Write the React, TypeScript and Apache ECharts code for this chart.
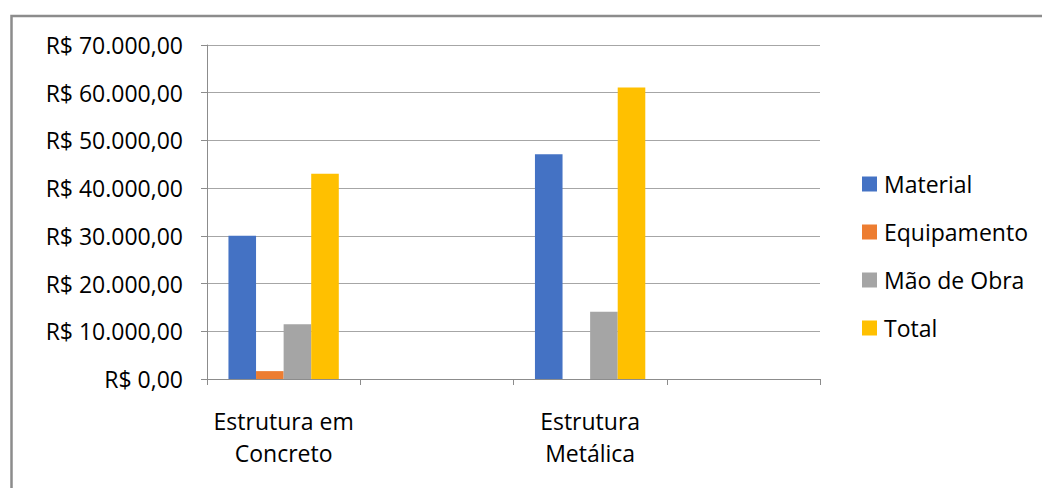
import React, { useEffect, useRef } from "react";
import * as echarts from "echarts";

const categories = ["Estrutura em\nConcreto", "", "Estrutura\nMetálica", ""];
const seriesNames = ["Material", "Equipamento", "Mão de Obra", "Total"];
const material = [30000, null, 47100, null];
const equipamento = [1650, null, 0, null];
const maoDeObra = [11450, null, 14100, null];
const total = [43000, null, 61100, null];
const colors = ["#4472C4", "#ED7D31", "#A5A5A5", "#FFC000"];

function brl(v: number): string {
  const fixed = Math.abs(v).toFixed(2);
  const [intPart, dec] = fixed.split(".");
  const withDots = intPart.replace(/\B(?=(\d{3})+(?!\d))/g, ".");
  return "R$ " + withDots + "," + dec;
}

const FONT = "Open Sans";
const FS = 23;

export default function App() {
  const ref = useRef<HTMLDivElement>(null);
  useEffect(() => {
    document.body.style.margin = "0";
    if (!ref.current) return;
    const chart = echarts.init(ref.current, undefined, { renderer: "svg" });
    const values = [material, equipamento, maoDeObra, total];
    chart.setOption({
      animation: false,
      backgroundColor: "#ffffff",
      textStyle: { fontFamily: FONT },
      graphic: [
        {
          type: "rect",
          shape: { x: 11.5, y: 16, width: 1200, height: 600 },
          style: { fill: "none", stroke: "#8c8c8c", lineWidth: 2.5 },
          silent: true,
        },
      ],
      grid: { left: 207, right: 222, top: 45, bottom: 109, containLabel: false },
      legend: {
        orient: "vertical",
        left: 857,
        top: 167.5,
        padding: 5,
        itemWidth: 15,
        itemHeight: 15,
        itemGap: 25,
        icon: "rect",
        data: seriesNames,
        textStyle: {
          fontFamily: FONT,
          fontSize: FS,
          lineHeight: 23,
          color: "#000",
          padding: [0, 0, 0, 2],
        },
      },
      xAxis: {
        type: "category",
        data: categories,
        axisLine: { lineStyle: { color: "#8c8c8c", width: 1 } },
        axisTick: { show: true, length: 6, lineStyle: { color: "#8c8c8c" } },
        axisLabel: {
          interval: 0,
          margin: 26,
          fontFamily: FONT,
          fontSize: FS,
          lineHeight: 32,
          color: "#000",
        },
      },
      yAxis: {
        type: "value",
        min: 0,
        max: 70000,
        interval: 10000,
        axisLine: { show: true, lineStyle: { color: "#8c8c8c", width: 1 } },
        axisTick: { show: true, length: 6, lineStyle: { color: "#8c8c8c" } },
        splitLine: { lineStyle: { color: "#a6a6a6", width: 1 } },
        axisLabel: {
          margin: 24,
          fontFamily: FONT,
          fontSize: FS,
          color: "#000",
          formatter: (v: number) => brl(v),
        },
      },
      series: seriesNames.map((name, i) => ({
        name,
        type: "bar",
        data: values[i],
        barGap: "0%",
        barCategoryGap: "28%",
        itemStyle: { color: colors[i] },
      })),
    });
    return () => chart.dispose();
  }, []);
  return <div ref={ref} style={{ width: 1042, height: 488 }} />;
}
